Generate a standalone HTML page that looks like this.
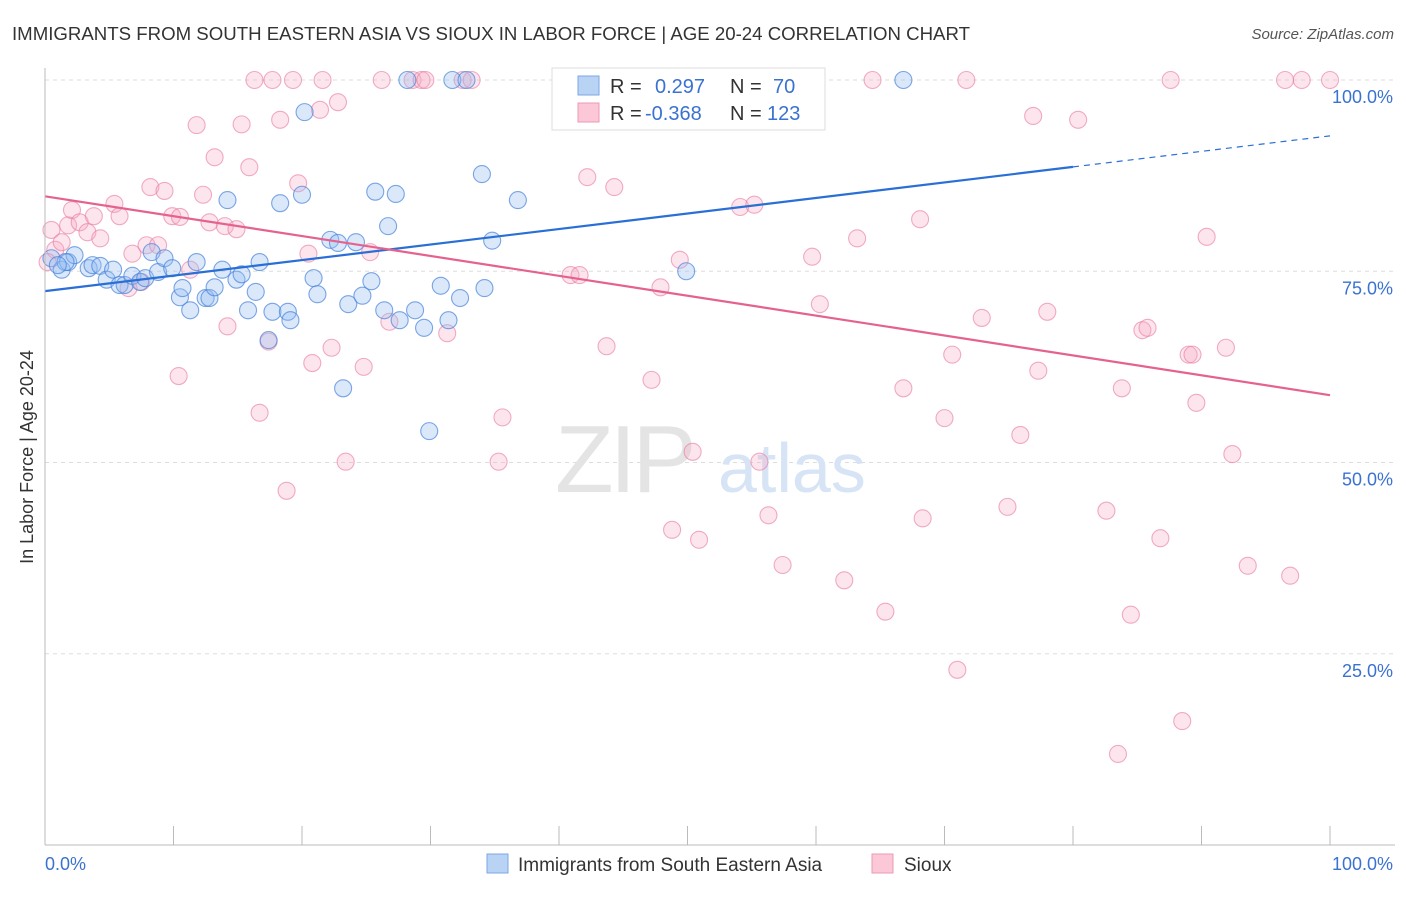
<!DOCTYPE html>
<html><head><meta charset="utf-8">
<style>
body{margin:0;background:#fff;font-family:"Liberation Sans",sans-serif;}
svg text{font-family:"Liberation Sans",sans-serif;}
</style></head>
<body>
<svg id="chart" width="1406" height="892" xmlns="http://www.w3.org/2000/svg">
<text x="12" y="40" font-size="18" fill="#333" textLength="958" lengthAdjust="spacingAndGlyphs">IMMIGRANTS FROM SOUTH EASTERN ASIA VS SIOUX IN LABOR FORCE | AGE 20-24 CORRELATION CHART</text>
<text x="1394" y="39" font-size="15" fill="#555" font-style="italic" text-anchor="end">Source: ZipAtlas.com</text>
<text x="33" y="457" font-size="18" fill="#333" text-anchor="middle" transform="rotate(-90 33 457)">In Labor Force | Age 20-24</text>
<g id="grid"></g>
<g><text x="555" y="492" font-size="96" fill="#e4e4e4" font-family="Liberation Serif" letter-spacing="-4">ZIP</text><text x="718" y="492" font-size="70" fill="#d6e4f5">atlas</text></g>
<g id="pts"></g>
<g id="lines"></g>
<g id="axes"></g>
<g>
<rect x="552" y="68" width="273" height="62" fill="#fff" stroke="#ddd"/>
<rect x="578" y="76" width="21" height="19" fill="#b9d3f5" stroke="#7aa7e6"/>
<rect x="578" y="103" width="21" height="19" fill="#fcc8d7" stroke="#eb9ab4"/>
<text x="610" y="93" font-size="20" fill="#333">R =</text><text x="655" y="93" font-size="20" fill="#3a72d0">0.297</text>
<text x="730" y="93" font-size="20" fill="#333">N =</text><text x="773" y="93" font-size="20" fill="#3a72d0">70</text>
<text x="610" y="120" font-size="20" fill="#333">R =</text><text x="645" y="120" font-size="20" fill="#3a72d0">-0.368</text>
<text x="730" y="120" font-size="20" fill="#333">N =</text><text x="767" y="120" font-size="20" fill="#3a72d0">123</text>
</g>
<g>
<rect x="487" y="854" width="21" height="19" fill="#b9d3f5" stroke="#7aa7e6"/>
<text x="518" y="871" font-size="19" fill="#333">Immigrants from South Eastern Asia</text>
<rect x="872" y="854" width="21" height="19" fill="#fcc8d7" stroke="#eb9ab4"/>
<text x="904" y="871" font-size="19" fill="#333">Sioux</text>
</g>
</svg>
<script>
const yTicks=[25,50,75,100];
const yTickLabels=["25.0%","50.0%","75.0%","100.0%"];
const xTicks=[0,10,20,30,40,50,60,70,80,90,100];
const blueX=[0.5,1.3,1.8,2.3,3.4,3.7,4.3,4.8,5.3,5.8,6.2,6.8,7.4,7.8,8.3,8.8,9.3,9.9,10.5,10.7,11.3,11.8,12.5,12.8,13.2,13.8,14.2,14.9,15.3,15.8,16.4,16.7,17.4,17.7,18.3,18.9,19.1,20.0,20.2,20.9,21.2,22.2,22.8,23.2,23.6,24.2,24.7,25.4,25.7,26.4,26.7,27.3,27.6,28.2,28.8,29.5,29.9,30.8,31.4,31.7,32.3,32.8,34.0,34.2,34.8,36.8,49.9,66.8,1.6,1.0];
const blueY=[76.7,75.2,76.2,77.1,75.4,75.8,75.7,73.9,75.2,73.2,73.2,74.4,73.6,74.1,77.5,74.9,76.7,75.4,71.6,72.8,69.9,76.2,71.5,71.5,72.9,75.2,84.3,73.9,74.6,69.9,72.3,76.2,66.0,69.7,83.9,69.7,68.6,85.0,95.8,74.1,72.0,79.1,78.7,59.7,70.7,78.8,71.8,73.7,85.4,69.9,80.9,85.1,68.6,100,69.9,67.6,54.1,73.1,68.6,100,71.5,100,87.7,72.8,79.0,84.3,75.0,100,76.2,75.8];
const pinkX=[0.5,0.8,0.2,1.3,1.8,2.1,2.7,3.3,3.8,4.3,5.4,5.8,6.5,6.8,7.5,7.9,8.2,8.8,9.3,9.9,10.5,10.4,11.3,11.8,12.3,12.8,13.2,14.0,14.2,14.9,15.3,15.9,16.3,16.7,17.4,17.7,18.3,18.8,19.3,19.7,20.5,20.8,21.4,21.6,22.3,22.8,23.4,24.8,25.3,26.2,26.8,28.6,29.3,29.6,31.3,32.5,33.2,35.3,35.6,40.9,41.6,42.2,43.7,44.3,47.2,47.9,48.8,49.4,50.4,50.9,54.1,55.2,55.6,56.3,57.4,59.7,60.3,62.2,63.2,64.4,65.4,66.8,68.3,68.1,70.0,70.6,71.0,71.7,72.9,74.9,75.9,76.9,77.3,78.0,80.4,82.6,83.5,83.8,84.5,85.4,85.8,86.8,87.6,88.5,89.0,89.3,89.6,90.4,91.9,92.4,93.6,96.5,96.9,97.8,100];
const pinkY=[80.4,77.8,76.2,78.8,81.0,83.0,81.4,80.1,82.2,79.3,83.8,82.2,72.8,77.3,73.6,78.4,86.0,78.4,85.5,82.2,82.1,61.3,75.2,94.1,85.0,81.4,89.9,80.9,67.8,80.5,94.2,88.6,100,56.5,65.8,100,94.8,46.3,100,86.5,77.3,63.0,96.1,100,65.0,97.1,50.1,62.5,77.5,100,68.4,100,100,100,66.9,100,100,50.1,55.9,74.5,74.5,87.3,65.2,86.0,60.8,72.9,41.2,76.5,51.4,39.9,83.4,83.7,50.1,43.1,36.6,76.9,70.7,34.6,79.3,100,30.5,59.7,42.7,81.8,55.8,64.1,22.9,100,68.9,44.2,53.6,95.3,62.0,69.7,94.8,43.7,11.9,59.7,30.1,67.3,67.6,40.1,100,16.2,64.1,64.1,57.8,79.5,65.0,51.1,36.5,100,35.2,100,100];
const blueTrend=[72.4,92.7]; const blueSolidEnd=80;
const pinkTrend=[84.8,58.8];
const NS="http://www.w3.org/2000/svg";
const X0=45,X1=1330,Y0=845,Y100=80;
const sx=v=>X0+(X1-X0)*v/100, sy=v=>Y0-(Y0-Y100)*v/100;
function mk(tag,attrs,parent){const e=document.createElementNS(NS,tag);for(const k in attrs)e.setAttribute(k,attrs[k]);parent.appendChild(e);return e;}
const grid=document.getElementById('grid'),axes=document.getElementById('axes'),pts=document.getElementById('pts'),lines=document.getElementById('lines');
yTicks.forEach((t,i)=>{
 const l=mk('line',{x1:X0,x2:1395,y1:sy(t),y2:sy(t),stroke:'#ddd','stroke-dasharray':'4,4'},grid);
 
 
 const tx=mk('text',{x:1393,y:sy(t)+23,'font-size':18,fill:'#3a72d0','text-anchor':'end'},axes);
 tx.textContent=yTickLabels[i];
 
 
});
const ax=mk('line',{x1:X0,x2:X0,y1:68,y2:Y0,stroke:'#bbb'},axes);


const bx=mk('line',{x1:X0,x2:1395,y1:Y0,y2:Y0,stroke:'#bbb'},axes);


xTicks.forEach(t=>{
 const k=mk('line',{x1:sx(t),x2:sx(t),y1:826,y2:Y0,stroke:'#bbb'},axes);
 
 
});
const xl0=mk('text',{x:45,y:870,'font-size':18,fill:'#3a72d0'},axes);xl0.textContent='0.0%';


const xl1=mk('text',{x:1393,y:870,'font-size':18,fill:'#3a72d0','text-anchor':'end'},axes);xl1.textContent='100.0%';


pinkX.forEach((v,i)=>{
 const c=mk('circle',{cx:sx(v),cy:sy(pinkY[i]),r:8.5,fill:'rgba(248,170,195,0.3)',stroke:'rgba(232,120,160,0.6)','stroke-width':1.1},pts);
 
 
});
blueX.forEach((v,i)=>{
 const c=mk('circle',{cx:sx(v),cy:sy(blueY[i]),r:8.5,fill:'rgba(150,190,240,0.35)',stroke:'rgba(70,130,220,0.7)','stroke-width':1.1},pts);
 
 
});
const bY=x=>blueTrend[0]+(blueTrend[1]-blueTrend[0])*x/100;
const b1=mk('line',{x1:sx(0),y1:sy(bY(0)),x2:sx(blueSolidEnd),y2:sy(bY(blueSolidEnd)),stroke:'#2a6fd6','stroke-width':2.2},lines);


const b2=mk('line',{x1:sx(blueSolidEnd),y1:sy(bY(blueSolidEnd)),x2:sx(100),y2:sy(bY(100)),stroke:'#2a6fd6','stroke-width':1.2,'stroke-dasharray':'6,5'},lines);


const p1=mk('line',{x1:sx(0),y1:sy(pinkTrend[0]),x2:sx(100),y2:sy(pinkTrend[1]),stroke:'#e5628f','stroke-width':2.2},lines);


</script>
</body></html>
